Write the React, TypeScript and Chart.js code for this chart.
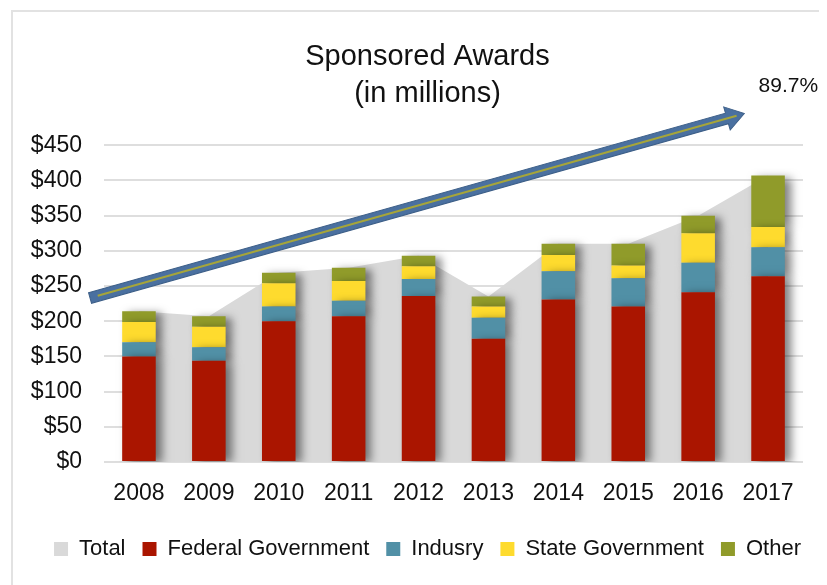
import React, { useEffect, useRef } from "react";
import { Chart, registerables } from "chart.js";

Chart.register(...registerables);

const years = ["2008", "2009", "2010", "2011", "2012", "2013", "2014", "2015", "2016", "2017"];
const total = [214, 207, 269, 276, 293, 235, 310, 310, 350, 407];
const federal = [150, 144, 200, 207, 236, 175, 231, 221, 241, 264];
const industry = [20, 19, 21, 22, 24, 30, 40, 40, 42, 41];
const stateGov = [29, 29, 33, 28, 18, 16, 23, 18, 42, 29];
const other = [15, 15, 15, 19, 15, 14, 16, 31, 25, 73];
const growthLabel = "89.7%";
// arrow endpoints in (category index, value) units
const arrowStart = [-0.7, 233];
const arrowEnd = [8.66, 495];
const growthLabelPos = [9.29, 534];

const FONT = "'Liberation Sans', Arial, sans-serif";

const framePlugin = {
  id: "frame",
  beforeDraw(chart: any) {
    const ctx = chart.ctx;
    ctx.save();
    ctx.strokeStyle = "#e2e2e2";
    ctx.lineWidth = 2;
    ctx.beginPath();
    ctx.moveTo(4, chart.height + 5);
    ctx.lineTo(4, 3);
    ctx.lineTo(chart.width + 5, 3);
    ctx.stroke();
    ctx.restore();
  },
};

const shadowPlugin = {
  id: "barShadow",
  beforeDatasetDraw(chart: any, args: any) {
    const ds = chart.data.datasets[args.index];
    if (ds.type === "line") return;
    const ctx = chart.ctx;
    ctx.save();
    ctx.shadowColor = "rgba(0,0,0,0.5)";
    ctx.shadowBlur = 9;
    ctx.shadowOffsetX = 6;
    ctx.shadowOffsetY = 2;
  },
  afterDatasetDraw(chart: any, args: any) {
    const ds = chart.data.datasets[args.index];
    if (ds.type === "line") return;
    chart.ctx.restore();
  },
};

const arrowPlugin = {
  id: "growthArrow",
  afterDatasetsDraw(chart: any) {
    const { ctx, scales } = chart;
    const x = scales.x, y = scales.y;
    const x0 = x.getPixelForValue(arrowStart[0]);
    const y0 = y.getPixelForValue(arrowStart[1]);
    const x1 = x.getPixelForValue(arrowEnd[0]);
    const y1 = y.getPixelForValue(arrowEnd[1]);
    const ang = Math.atan2(y1 - y0, x1 - x0);
    const len = Math.hypot(x1 - x0, y1 - y0);
    const headLen = 18;
    const halfBody = 5.5;
    const halfHead = 12;
    ctx.save();
    ctx.translate(x0, y0);
    ctx.rotate(ang);
    ctx.beginPath();
    ctx.moveTo(0, -halfBody);
    ctx.lineTo(len - headLen, -halfBody);
    ctx.lineTo(len - headLen, -halfHead);
    ctx.lineTo(len, 0);
    ctx.lineTo(len - headLen, halfHead);
    ctx.lineTo(len - headLen, halfBody);
    ctx.lineTo(0, halfBody);
    ctx.closePath();
    ctx.fillStyle = "#4a70a0";
    ctx.fill();
    ctx.strokeStyle = "#3d5f88";
    ctx.lineWidth = 1;
    ctx.stroke();
    ctx.beginPath();
    ctx.moveTo(8, 0);
    ctx.lineTo(len - 8, 0);
    ctx.strokeStyle = "#a6a53a";
    ctx.lineWidth = 2;
    ctx.stroke();
    ctx.restore();

    ctx.save();
    ctx.font = `21px ${FONT}`;
    ctx.fillStyle = "#111";
    ctx.textAlign = "center";
    ctx.textBaseline = "middle";
    ctx.fillText(
      growthLabel,
      x.getPixelForValue(growthLabelPos[0]),
      y.getPixelForValue(growthLabelPos[1])
    );
    ctx.restore();
  },
};

export default function App() {
  const ref = useRef<HTMLCanvasElement | null>(null);
  useEffect(() => {
    if (!ref.current) return;
    const chart = new Chart(ref.current, {
      type: "bar",
      data: {
        labels: years,
        datasets: [
          {
            type: "line",
            label: "Total",
            data: total,
            backgroundColor: "#d9d9d9",
            borderColor: "#d9d9d9",
            borderWidth: 0,
            pointRadius: 0,
            fill: "origin",
            tension: 0,
            stack: "total",
            order: 10,
          } as any,
          { label: "Federal Government", data: federal, backgroundColor: "#aa1500", stack: "a", order: 1 },
          { label: "Indusry", data: industry, backgroundColor: "#5190a6", stack: "a", order: 1 },
          { label: "State Government", data: stateGov, backgroundColor: "#fedb2e", stack: "a", order: 1 },
          { label: "Other", data: other, backgroundColor: "#909b2a", stack: "a", order: 1 },
        ],
      },
      options: {
        responsive: false,
        animation: false,
        maintainAspectRatio: false,
        layout: { padding: { left: 20, right: 0, top: 0, bottom: 15 } },
        datasets: {
          bar: { categoryPercentage: 0.48, barPercentage: 1, borderWidth: 0 },
        },
        scales: {
          x: {
            stacked: true,
            grid: { display: false },
            border: { display: false },
            ticks: { color: "#111", font: { family: FONT, size: 23 }, padding: 10 },
            afterFit(scale: any) {
              scale.height = 59;
            },
          },
          y: {
            stacked: true,
            min: 0,
            max: 450,
            grid: { color: "#dedede", lineWidth: 2, drawTicks: false },
            border: { display: false },
            ticks: {
              stepSize: 50,
              color: "#111",
              font: { family: FONT, size: 23 },
              padding: 22,
              callback: (v: any) => "$" + v,
            },
            afterFit(scale: any) {
              scale.width = 76;
            },
          },
          ySpacer: {
            type: "linear",
            position: "right",
            display: true,
            grid: { display: false },
            border: { display: false },
            ticks: { display: false },
            afterFit(scale: any) {
              scale.width = 24;
            },
          },
        },
        plugins: {
          title: {
            display: true,
            text: ["Sponsored Awards", "(in millions)"],
            color: "#111",
            font: { family: FONT, size: 29, weight: "normal", lineHeight: 1.28 },
            padding: { top: 30, bottom: 33 },
          },
          legend: {
            position: "bottom",
            labels: {
              boxWidth: 14,
              boxHeight: 14,
              padding: 17,
              color: "#111",
              font: { family: FONT, size: 22 },
              sort: (a: any, b: any) => a.datasetIndex - b.datasetIndex,
            },
          },
          tooltip: { enabled: false },
        },
      },
      plugins: [framePlugin, shadowPlugin, arrowPlugin],
    } as any);
    return () => chart.destroy();
  }, []);
  return (
    <div style={{ width: 819, height: 577 }}>
      <canvas ref={ref} width={819} height={577} style={{ display: "block" }} />
    </div>
  );
}
